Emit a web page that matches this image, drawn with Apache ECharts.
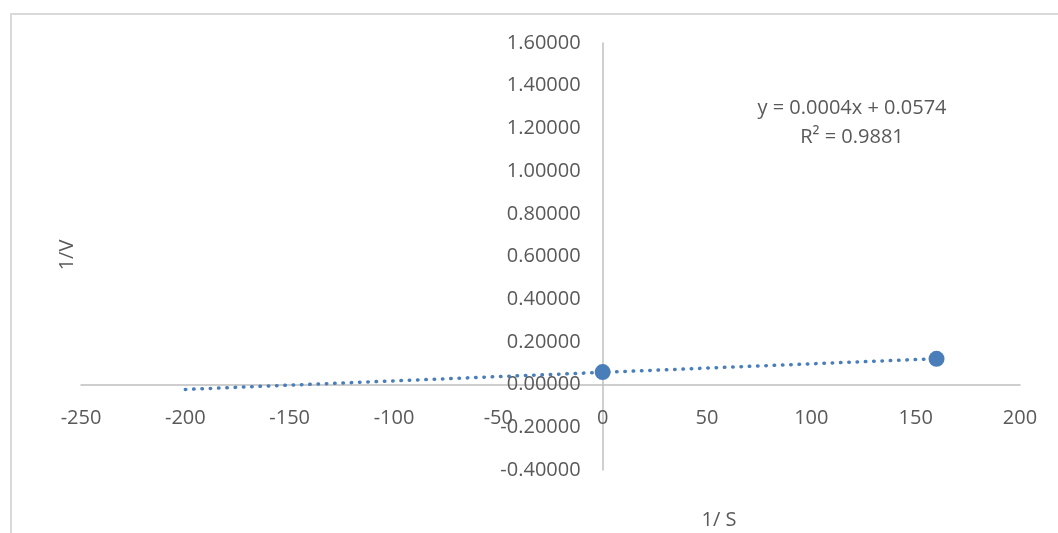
<!DOCTYPE html>
<html>
<head>
<meta charset="utf-8">
<script src="https://cdn.jsdelivr.net/npm/echarts@6/dist/echarts.min.js"></script>
<style>
html,body{margin:0;padding:0;background:#fff;}
#chart{width:1058px;height:533px;}
</style>
</head>
<body>
<div id="chart"></div>
<script>
// Data
const pointsX = [0, 160];
const pointsY = [0.0585, 0.1205];
// Trendline as displayed: y = 0.0004x + 0.0574
const trendSlope = 0.0004;
const trendIntercept = 0.0574;
const trendX = [-200, 160];
const xTicks = [-250, -200, -150, -100, -50, 0, 50, 100, 150, 200];
const yTicks = [-0.4, -0.2, 0, 0.2, 0.4, 0.6, 0.8, 1.0, 1.2, 1.4, 1.6];
const equationText = 'y = 0.0004x + 0.0574';
const r2Text = 'R² = 0.9881';
const xTitle = '1/ S';
const yTitle = '1/V';

const FONT = '"Open Sans", sans-serif';
const TXT = '#595959';
const AX = '#bfbfbf';

const chart = echarts.init(document.getElementById('chart'));
const option = {
  animation: false,
  backgroundColor: '#fff',
  grid: {left: 81, right: 38, top: 43, bottom: 63, containLabel: false, outerBoundsMode: 'none'},
  xAxis: {
    type: 'value',
    position: 'bottom',
    offset: 0,
    min: xTicks[0], max: xTicks[xTicks.length - 1], interval: 50,
    axisLine: {onZero: false, lineStyle: {color: AX, width: 1.5}},
    axisTick: {show: false},
    splitLine: {show: false},
    axisLabel: {color: TXT, fontFamily: FONT, fontSize: 20, margin: 24,
      formatter: v => String(v)}
  },
  yAxis: {
    type: 'value',
    position: 'left',
    offset: 0,
    min: yTicks[0], max: yTicks[yTicks.length - 1], interval: 0.2,
    axisLine: {onZero: false, lineStyle: {color: AX, width: 1.5}},
    axisTick: {show: false},
    splitLine: {show: false},
    axisLabel: {color: TXT, fontFamily: FONT, fontSize: 20, margin: 22,
      formatter: v => v.toFixed(5)}
  },
  series: [
    {
      type: 'line',
      data: trendX.map(x => [x, trendSlope * x + trendIntercept]),
      symbol: 'none',
      lineStyle: {color: '#4a7ebb', width: 3.5, type: [0.5, 7.8], cap: 'round'},
      z: 2
    },
    {
      type: 'scatter',
      data: pointsX.map((x, i) => [x, pointsY[i]]),
      symbol: 'circle',
      symbolSize: 16,
      itemStyle: {color: '#4a7ebb', opacity: 1},
      z: 3
    }
  ],
  graphic: [
    {type: 'polyline', shape: {points: [[11, 533], [11, 14], [1058, 14]]},
      style: {stroke: '#d9d9d9', lineWidth: 2, fill: null}, silent: true},
    {type: 'text', x: 852, y: 108,
      style: {text: equationText, fill: TXT, font: '20px ' + FONT, textAlign: 'center', textVerticalAlign: 'middle'}},
    {type: 'text', x: 852, y: 137,
      style: {text: r2Text, fill: TXT, font: '20px ' + FONT, textAlign: 'center', textVerticalAlign: 'middle'}},
    {type: 'text', x: 719, y: 520,
      style: {text: xTitle, fill: TXT, font: '20px ' + FONT, textAlign: 'center', textVerticalAlign: 'middle'}},
    {type: 'text', x: 67, y: 255, rotation: Math.PI / 2,
      style: {text: yTitle, fill: TXT, font: '20px ' + FONT, textAlign: 'center', textVerticalAlign: 'middle'}}
  ]
};
chart.setOption(option);

// Move the axes so that they cross at zero (like Excel), using the chart's own scales.
const origin = chart.convertToPixel({gridIndex: 0}, [0, 0]);
const bottomLeft = chart.convertToPixel({gridIndex: 0}, [xTicks[0], yTicks[0]]);
chart.setOption({
  xAxis: {offset: -(bottomLeft[1] - origin[1])},
  yAxis: {offset: -(origin[0] - bottomLeft[0])}
});
</script>
</body>
</html>
